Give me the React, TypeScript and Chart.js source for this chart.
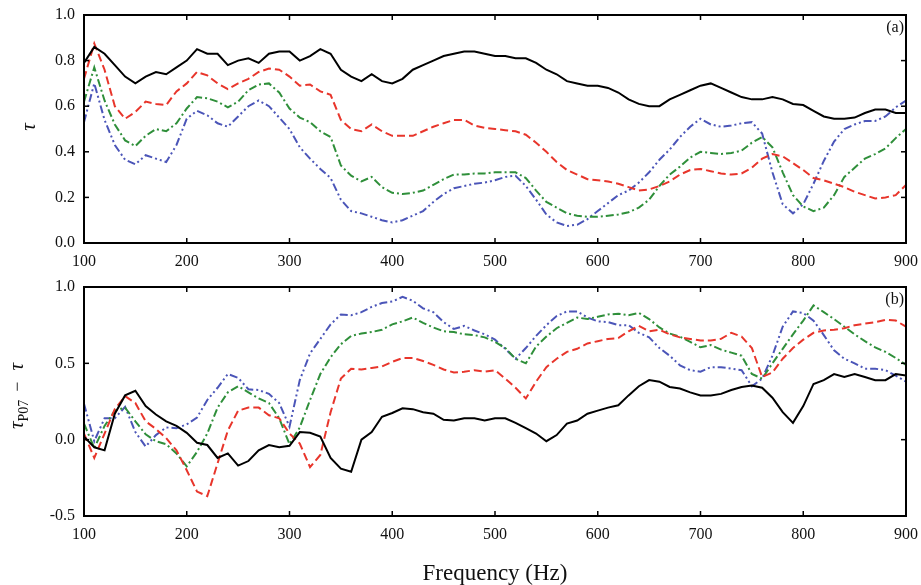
import React, { useEffect, useRef } from "react";
import { Chart, registerables } from "chart.js";

Chart.register(...registerables);

// ---------- data ----------
const freq = [
  100, 110, 120, 130, 140, 150, 160, 170, 180, 190,
  200, 210, 220, 230, 240, 250, 260, 270, 280, 290,
  300, 310, 320, 330, 340, 350, 360, 370, 380, 390,
  400, 410, 420, 430, 440, 450, 460, 470, 480, 490,
  500, 510, 520, 530, 540, 550, 560, 570, 580, 590,
  600, 610, 620, 630, 640, 650, 660, 670, 680, 690,
  700, 710, 720, 730, 740, 750, 760, 770, 780, 790,
  800, 810, 820, 830, 840, 850, 860, 870, 880, 890,
  900,
];

// Panel (a): tau
const tauBlack = [
  0.79, 0.86, 0.83, 0.78, 0.73, 0.70, 0.73, 0.75, 0.74, 0.77,
  0.80, 0.85, 0.83, 0.83, 0.78, 0.80, 0.81, 0.79, 0.83, 0.84,
  0.84, 0.80, 0.82, 0.85, 0.83, 0.76, 0.73, 0.71, 0.74, 0.71,
  0.70, 0.72, 0.76, 0.78, 0.80, 0.82, 0.83, 0.84, 0.84, 0.83,
  0.82, 0.82, 0.81, 0.81, 0.79, 0.76, 0.74, 0.71, 0.70, 0.69,
  0.69, 0.68, 0.66, 0.63, 0.61, 0.60, 0.60, 0.63, 0.65, 0.67,
  0.69, 0.70, 0.68, 0.66, 0.64, 0.63, 0.63, 0.64, 0.63, 0.61,
  0.605, 0.58, 0.555, 0.545, 0.545, 0.55, 0.57, 0.585, 0.585, 0.57,
  0.57,
];
const tauRed = [
  0.72, 0.875, 0.76, 0.60, 0.545, 0.575, 0.62, 0.61, 0.605, 0.665,
  0.70, 0.75, 0.735, 0.70, 0.675, 0.70, 0.72, 0.75, 0.765, 0.76,
  0.73, 0.69, 0.695, 0.665, 0.65, 0.54, 0.50, 0.49, 0.52, 0.49,
  0.47, 0.47, 0.47, 0.49, 0.51, 0.525, 0.54, 0.54, 0.515, 0.505,
  0.50, 0.495, 0.49, 0.475, 0.44, 0.40, 0.355, 0.32, 0.30, 0.28,
  0.275, 0.27, 0.26, 0.245, 0.23, 0.235, 0.25, 0.27, 0.30, 0.32,
  0.325, 0.315, 0.305, 0.30, 0.305, 0.33, 0.37, 0.39, 0.38, 0.35,
  0.32, 0.285, 0.275, 0.26, 0.245, 0.225, 0.21, 0.195, 0.20, 0.21,
  0.255,
];
const tauGreen = [
  0.62, 0.77, 0.625, 0.52, 0.45, 0.425, 0.47, 0.50, 0.49, 0.525,
  0.59, 0.64, 0.635, 0.62, 0.595, 0.62, 0.67, 0.695, 0.70, 0.66,
  0.59, 0.55, 0.53, 0.49, 0.465, 0.34, 0.295, 0.27, 0.29, 0.245,
  0.22, 0.215, 0.22, 0.23, 0.255, 0.28, 0.30, 0.30, 0.305, 0.305,
  0.31, 0.31, 0.31, 0.285, 0.23, 0.18, 0.155, 0.13, 0.12, 0.115,
  0.115, 0.12, 0.125, 0.135, 0.155, 0.19, 0.25, 0.30, 0.335, 0.375,
  0.40, 0.395, 0.39, 0.395, 0.405, 0.44, 0.465, 0.42, 0.31, 0.21,
  0.16, 0.14, 0.155, 0.21, 0.29, 0.33, 0.37, 0.39, 0.415, 0.46,
  0.50,
];
const tauBlue = [
  0.53, 0.70, 0.54, 0.43, 0.365, 0.345, 0.385, 0.37, 0.355, 0.43,
  0.545, 0.58, 0.56, 0.525, 0.51, 0.555, 0.60, 0.625, 0.60, 0.55,
  0.50, 0.42, 0.37, 0.325, 0.285, 0.19, 0.14, 0.13, 0.115, 0.10,
  0.09, 0.10, 0.12, 0.14, 0.18, 0.215, 0.24, 0.25, 0.26, 0.265,
  0.275, 0.29, 0.295, 0.25, 0.19, 0.125, 0.09, 0.075, 0.08, 0.105,
  0.14, 0.175, 0.21, 0.23, 0.265, 0.31, 0.365, 0.41, 0.465, 0.51,
  0.545, 0.52, 0.51, 0.515, 0.525, 0.53, 0.48, 0.31, 0.17, 0.13,
  0.17, 0.26, 0.36, 0.445, 0.50, 0.52, 0.535, 0.535, 0.555, 0.595,
  0.625,
];

// Panel (b): tau_P07 - tau
const diffBlack = [
  0.02, -0.05, -0.07, 0.17, 0.29, 0.32, 0.22, 0.165, 0.12, 0.09,
  0.045, -0.02, -0.035, -0.12, -0.09, -0.17, -0.14, -0.07, -0.035, -0.05,
  -0.04, 0.05, 0.045, 0.02, -0.12, -0.19, -0.21, 0.0, 0.05, 0.15,
  0.175, 0.205, 0.20, 0.18, 0.17, 0.13, 0.125, 0.14, 0.14, 0.125,
  0.14, 0.14, 0.11, 0.075, 0.04, -0.01, 0.03, 0.105, 0.125, 0.17,
  0.19, 0.21, 0.225, 0.29, 0.35, 0.39, 0.38, 0.345, 0.335, 0.31,
  0.29, 0.29, 0.30, 0.325, 0.345, 0.355, 0.34, 0.275, 0.18, 0.11,
  0.22, 0.365, 0.39, 0.43, 0.41, 0.43, 0.41, 0.39, 0.39, 0.43,
  0.42,
];
const diffRed = [
  0.04, -0.12, 0.04, 0.20, 0.285, 0.24, 0.12, 0.07, 0.01, -0.07,
  -0.20, -0.34, -0.37, -0.155, 0.06, 0.19, 0.21, 0.21, 0.16, 0.14,
  0.04, -0.025, -0.18, -0.10, 0.18, 0.40, 0.465, 0.46, 0.47, 0.48,
  0.51, 0.535, 0.535, 0.515, 0.49, 0.46, 0.44, 0.445, 0.455, 0.445,
  0.455, 0.40, 0.34, 0.27, 0.38, 0.475, 0.53, 0.575, 0.595, 0.63,
  0.645, 0.66, 0.665, 0.71, 0.745, 0.71, 0.72, 0.69, 0.67, 0.66,
  0.65, 0.65, 0.66, 0.70, 0.675, 0.60, 0.41, 0.44, 0.53, 0.60,
  0.655, 0.70, 0.715, 0.72, 0.73, 0.75, 0.76, 0.77, 0.785, 0.78,
  0.74,
];
const diffGreen = [
  0.105, -0.055, 0.09, 0.19, 0.21, 0.12, 0.035, -0.01, -0.03, -0.09,
  -0.175, -0.08, 0.04, 0.21, 0.31, 0.35, 0.31, 0.27, 0.24, 0.14,
  -0.03, 0.08, 0.26, 0.43, 0.54, 0.625, 0.68, 0.695, 0.705, 0.72,
  0.755, 0.775, 0.80, 0.765, 0.735, 0.71, 0.705, 0.69, 0.685, 0.67,
  0.64, 0.60, 0.53, 0.50, 0.61, 0.675, 0.73, 0.765, 0.80, 0.79,
  0.805, 0.82, 0.825, 0.815, 0.83, 0.79, 0.735, 0.695, 0.675, 0.64,
  0.605, 0.62, 0.59, 0.57, 0.55, 0.43, 0.40, 0.50, 0.595, 0.69,
  0.78, 0.88, 0.835, 0.79, 0.74, 0.69, 0.645, 0.605, 0.575, 0.535,
  0.49,
];
const diffBlue = [
  0.235, -0.01, 0.14, 0.14, 0.215, 0.05, -0.045, 0.03, 0.08, 0.075,
  0.10, 0.145, 0.26, 0.34, 0.43, 0.405, 0.33, 0.325, 0.30, 0.24,
  0.085, 0.39, 0.565, 0.66, 0.755, 0.82, 0.815, 0.835, 0.87, 0.895,
  0.905, 0.935, 0.91, 0.86, 0.835, 0.77, 0.725, 0.745, 0.715, 0.69,
  0.655, 0.595, 0.53, 0.60, 0.68, 0.75, 0.81, 0.84, 0.84, 0.80,
  0.775, 0.77, 0.75, 0.75, 0.70, 0.67, 0.60, 0.55, 0.487, 0.455,
  0.445, 0.475, 0.475, 0.465, 0.455, 0.35, 0.40, 0.55, 0.74, 0.84,
  0.83, 0.78, 0.685, 0.585, 0.53, 0.50, 0.465, 0.465, 0.455, 0.42,
  0.38,
];

const xTickValues = [100, 200, 300, 400, 500, 600, 700, 800, 900];
const topYTickLabels = ["0.0", "0.2", "0.4", "0.6", "0.8", "1.0"];
const bottomYTickLabels = ["-0.5", "0.0", "0.5", "1.0"];

// ---------- styling ----------
const SERIF = "'Liberation Serif', 'Times New Roman', serif";
const COLORS = {
  black: "#000000",
  red: "#e8352b",
  green: "#2f8f3a",
  blue: "#4b55b8",
};

function makeDatasets(black: number[], red: number[], green: number[], blue: number[]) {
  const pts = (arr: number[]) => freq.map((f, i) => ({ x: f, y: arr[i] }));
  const base = { pointRadius: 0, borderWidth: 2, tension: 0, fill: false };
  return [
    { ...base, label: "black", data: pts(black), borderColor: COLORS.black, borderDash: [] as number[] },
    { ...base, label: "red", data: pts(red), borderColor: COLORS.red, borderDash: [8, 4] },
    { ...base, label: "green", data: pts(green), borderColor: COLORS.green, borderDash: [8, 3, 2, 3] },
    { ...base, label: "blue", data: pts(blue), borderColor: COLORS.blue, borderDash: [8, 3, 2, 3, 2, 3] },
  ];
}

// frame + inward ticks + axis title + panel tag
const framePlugin = {
  id: "frameTicks",
  afterDatasetsDraw(chart: any, _args: any, opts: any) {
    const { ctx, chartArea, scales } = chart;
    const { left, right, top, bottom } = chartArea;
    ctx.save();
    ctx.strokeStyle = "#000";
    ctx.lineWidth = 1.5;
    const tl = 5;
    const line = (x1: number, y1: number, x2: number, y2: number) => {
      ctx.beginPath();
      ctx.moveTo(x1, y1);
      ctx.lineTo(x2, y2);
      ctx.stroke();
    };
    scales.x.ticks.forEach((t: any) => {
      const px = scales.x.getPixelForValue(t.value);
      line(px, bottom, px, bottom - tl);
      line(px, top, px, top + tl);
    });
    scales.y.ticks.forEach((t: any) => {
      const py = scales.y.getPixelForValue(t.value);
      line(left, py, left + tl, py);
      line(right, py, right - tl, py);
    });
    ctx.lineWidth = 2;
    ctx.strokeRect(left, top, right - left, bottom - top);

    // panel tag
    ctx.fillStyle = "#111";
    ctx.font = `16px ${SERIF}`;
    ctx.textAlign = "right";
    ctx.textBaseline = "middle";
    ctx.fillText(opts.tag, right - 2, top + 13);

    // rotated y-axis title built from text pieces
    const pieces: { text: string; font: string; dy: number; gap: number }[] = opts.title;
    let total = 0;
    const widths = pieces.map((p) => {
      ctx.font = p.font;
      const w = ctx.measureText(p.text).width + p.gap;
      total += w;
      return w;
    });
    ctx.translate(opts.titleX, opts.titleY);
    ctx.rotate(-Math.PI / 2);
    ctx.textAlign = "left";
    ctx.textBaseline = "alphabetic";
    let cx = -total / 2;
    pieces.forEach((p, i) => {
      ctx.font = p.font;
      ctx.fillText(p.text, cx, p.dy);
      cx += widths[i];
    });
    ctx.restore();
  },
};

function makeOptions(
  yMin: number,
  yMax: number,
  yStep: number,
  yLabels: string[],
  xHeight: number,
  padTop: number,
  showXTitle: boolean,
  pluginOpts: any
) {
  const tickFont = { family: SERIF, size: 16 };
  return {
    responsive: false,
    animation: false as const,
    layout: { padding: { top: padTop, right: 15, left: 0, bottom: 0 } },
    plugins: {
      legend: { display: false },
      tooltip: { enabled: false },
      frameTicks: pluginOpts,
    },
    scales: {
      x: {
        type: "linear" as const,
        min: 100,
        max: 900,
        afterBuildTicks: (s: any) => {
          s.ticks = xTickValues.map((v) => ({ value: v }));
        },
        ticks: {
          font: tickFont,
          color: "#111",
          padding: 9,
          maxRotation: 0,
          callback: (v: any) => String(v),
        },
        grid: { display: false, drawTicks: false },
        border: { display: false },
        title: {
          display: showXTitle,
          text: "Frequency (Hz)",
          color: "#111",
          font: { family: SERIF, size: 23, lineHeight: 1 },
          padding: { top: 0, bottom: 0 },
        },
        afterFit: (s: any) => {
          s.height = xHeight;
          s.paddingLeft = 0;
          s.paddingRight = 0;
        },
      },
      y: {
        type: "linear" as const,
        min: yMin,
        max: yMax,
        afterBuildTicks: (s: any) => {
          s.ticks = yLabels.map((_, i) => ({ value: yMin + i * yStep }));
        },
        ticks: {
          font: tickFont,
          color: "#111",
          padding: 9,
          callback: (_v: any, i: number) => yLabels[i],
        },
        grid: { display: false, drawTicks: false },
        border: { display: false },
        afterFit: (s: any) => {
          s.width = 84;
          s.paddingTop = 0;
          s.paddingBottom = 0;
        },
      },
    },
  };
}

function Panel(props: {
  top: number;
  height: number;
  datasets: any[];
  options: any;
}) {
  const ref = useRef<HTMLCanvasElement | null>(null);
  useEffect(() => {
    if (!ref.current) return;
    const chart = new Chart(ref.current, {
      type: "line",
      data: { datasets: props.datasets },
      options: props.options,
      plugins: [framePlugin],
    });
    return () => chart.destroy();
  }, []);
  return (
    <canvas
      ref={ref}
      width={921}
      height={props.height}
      style={{ position: "absolute", left: 0, top: props.top, width: 921, height: props.height }}
    />
  );
}

export default function App() {
  const tauTitle = [{ text: "τ", font: `italic 21px ${SERIF}`, dy: 0, gap: 0 }];
  const diffTitle = [
    { text: "τ", font: `italic 21px ${SERIF}`, dy: 0, gap: 0 },
    { text: "P07", font: `14px ${SERIF}`, dy: 5, gap: 8 },
    { text: "−", font: `18px ${SERIF}`, dy: 0, gap: 11 },
    { text: "τ", font: `italic 21px ${SERIF}`, dy: 0, gap: 0 },
  ];
  const topOpts = makeOptions(0, 1, 0.2, topYTickLabels, 27, 15, false, {
    tag: "(a)",
    title: tauTitle,
    titleX: 35,
    titleY: 127,
  });
  const bottomOpts = makeOptions(-0.5, 1, 0.5, bottomYTickLabels, 69, 17, true, {
    tag: "(b)",
    title: diffTitle,
    titleX: 23,
    titleY: 126,
  });
  return (
    <div
      style={{
        position: "fixed",
        left: 0,
        top: 0,
        width: 921,
        height: 585,
        background: "#fff",
      }}
    >
      <Panel
        top={0}
        height={270}
        datasets={makeDatasets(tauBlack, tauRed, tauGreen, tauBlue)}
        options={topOpts}
      />
      <Panel
        top={270}
        height={315}
        datasets={makeDatasets(diffBlack, diffRed, diffGreen, diffBlue)}
        options={bottomOpts}
      />
    </div>
  );
}
